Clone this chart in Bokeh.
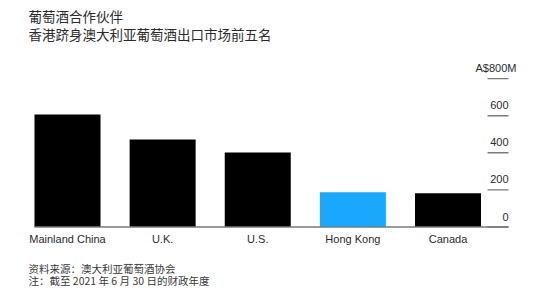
from bokeh.plotting import figure
from bokeh.models import Range1d, ColumnDataSource, Label
from bokeh.core.properties import value
from bokeh.embed import file_html
from bokeh.resources import INLINE

# ---- data ----
categories = ["Mainland China", "U.K.", "U.S.", "Hong Kong", "Canada"]
exports = [606, 472, 402, 188, 182]          # A$ million
bar_colors = ["#000000", "#000000", "#000000", "#1AA8FF", "#000000"]
tick_values = [0, 200, 400, 600]
tick_labels = ["0", "200", "400", "600"]
top_tick_value = 800
top_tick_label = "A$800M"
title_lines = ["葡萄酒合作伙伴", "香港跻身澳大利亚葡萄酒出口市场前五名"]
footer_lines = ["资料来源：澳大利亚葡萄酒协会", "注：截至 2021 年 6 月 30 日的财政年度"]

# ---- layout (pixels) ----
W, H = 554, 298
first_px, step_px = 67.0, 95.125
zero_px, px_per_unit = 226.5, 37.1 / 200.0

x_start = -first_px / step_px
x_end = (W - first_px) / step_px
y_end = zero_px / px_per_unit
y_start = -(H - zero_px) / px_per_unit


def dx(px):
    return (px - first_px) / step_px


def dy(py):
    return (zero_px - py) / px_per_unit


LATIN = "Liberation Sans"
CJK = "Noto Sans CJK SC"
TXT = "#2b2b2b"
RULE = "#7a7a7a"

p = figure(width=W, height=H, x_range=Range1d(x_start, x_end),
           y_range=Range1d(y_start, y_end), min_border=0,
           toolbar_location=None, output_backend="svg",
           x_axis_location=None, y_axis_location=None)
p.outline_line_color = None
p.grid.visible = False
p.background_fill_color = "white"

bar_w = 0.694
positions = list(range(len(categories)))
src = ColumnDataSource(dict(x=positions, top=exports, color=bar_colors, cat=categories))
p.vbar(x="x", top="top", bottom=0, width=bar_w, fill_color="color",
       line_color=None, source=src)

# baseline
rule_h = 1.4 / px_per_unit
p.hbar(y=[0], left=-bar_w / 2, right=dx(508), height=rule_h,
       fill_color=RULE, line_color=None)

# y ticks (short rules at right, labels above)
all_ticks = tick_values + [top_tick_value]
p.hbar(y=all_ticks, left=dx(487), right=dx(508), height=rule_h,
       fill_color=RULE, line_color=None)
p.text(x=[dx(508)] * len(tick_values), y=tick_values, text=tick_labels,
       text_align="right", text_baseline="middle", y_offset=-10.5,
       text_font=value(LATIN), text_font_size="11px", text_color=TXT)
p.text(x=[dx(508)], y=[top_tick_value], text=[top_tick_label],
       text_align="right", text_baseline="middle", y_offset=-10.5, x_offset=8,
       text_font=value(LATIN), text_font_size="11px", text_color=TXT)

# category labels
p.text(x="x", y=0, text="cat", source=src, text_align="center",
       text_baseline="middle", y_offset=11.5,
       text_font=value(LATIN), text_font_size="11px", text_color=TXT)

# titles
for line, py in zip(title_lines, [15.5, 33.5]):
    p.add_layout(Label(x=dx(28), y=dy(py), text=line, text_baseline="middle",
                       text_align="left", text_font=CJK, text_font_size="13.5px",
                       text_color=TXT))

# footer
for line, py in zip(footer_lines, [267.5, 280]):
    p.add_layout(Label(x=dx(28), y=dy(py), text=line, text_baseline="middle",
                       text_align="left", text_font=CJK, text_font_size="10.5px",
                       text_color="#3a3a3a"))

open("out.html", "w").write(file_html(p, INLINE))
